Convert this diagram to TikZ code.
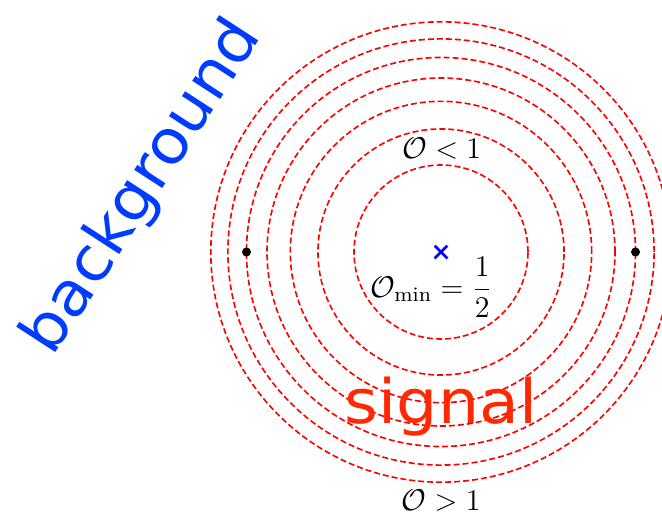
\documentclass[tikz,border=0pt]{standalone}
\usepackage{amsmath,amssymb}
\usepackage{fontspec}
\newfontfamily\labelfont[FakeStretch=1.06]{DejaVu Sans}
\usetikzlibrary{calc,shapes.misc}

\definecolor{signalred}{RGB}{255,40,0}
\definecolor{bgblue}{RGB}{0,60,255}

\begin{document}
\begin{tikzpicture}[
    x=0.4pt, y=0.4pt,
    ring/.style={draw=red, line width=0.65pt, dash pattern=on 2.4pt off 1.2pt},
    dot/.style={circle, fill=black, inner sep=0pt, minimum size=3.6pt},
    minpoint/.style={cross out, draw=blue, line width=1.1pt, inner sep=0pt, minimum size=4pt},
    mathlabel/.style={font=\fontsize{11.8}{14}\selectfont},
    biglabel/.style={font=\labelfont\fontsize{24.5}{29}\selectfont}
]

\path[use as bounding box, clip] (0,0) rectangle (662,516);

% Centre of the rings
\coordinate (c) at (441,264);

% Rings
\foreach \k in {1,...,7}
  \draw[ring] (c) circle ({87*sqrt(\k)});

% Points on the fifth ring
\node[dot] (ldot) at ($(c)+(-194.5,0)$) {};
\node[dot] (rdot) at ($(c)+(194.5,0)$) {};

% Minimum
\node[minpoint] (cmin) at (c) {};

% Labels
\node[mathlabel] (olow) at (441.7,367) {$\mathcal{O} < 1$};
\node[mathlabel] (omin) at (431.5,228.5) {$\mathcal{O}_{\min} = \dfrac{1}{2}$};
\node[mathlabel] (ohigh) at (441,15) {$\mathcal{O} > 1$};

\node[biglabel, text=signalred, anchor=base] (signal) at (441,92.7) {signal};
\node[biglabel, text=bgblue, anchor=base, rotate=57] (bg) at (157.5,319.3) {background};

\end{tikzpicture}
\end{document}
